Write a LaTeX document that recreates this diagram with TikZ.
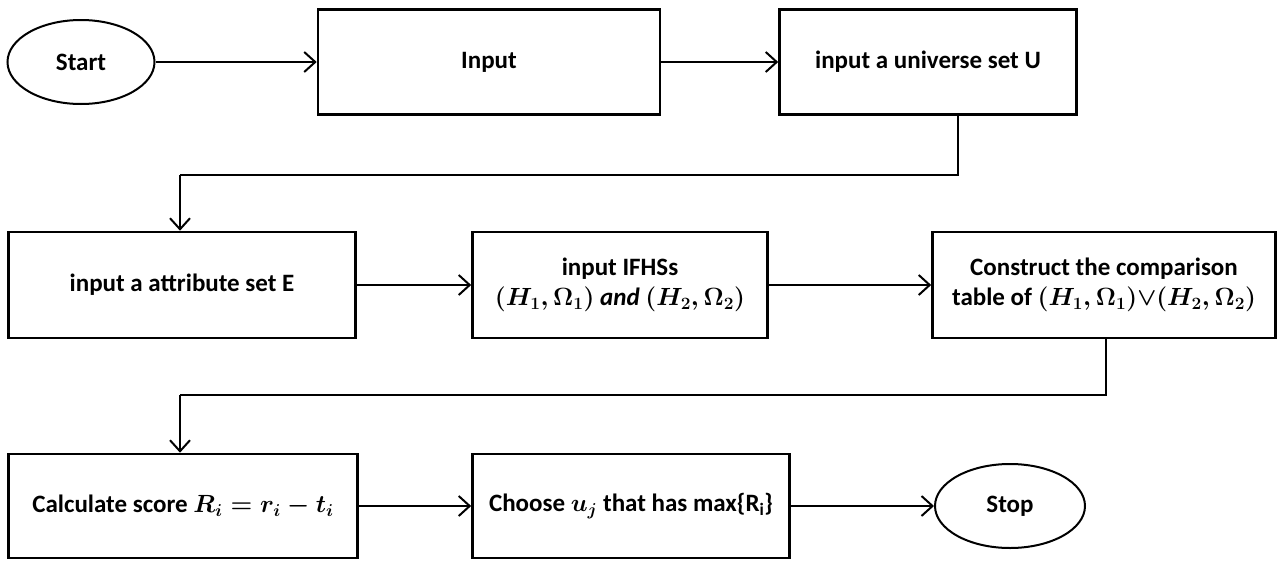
\documentclass[tikz,border=0pt]{standalone}
\usepackage{fontspec}
\setmainfont{Carlito}
\usetikzlibrary{shapes.geometric,arrows.meta}
\begin{document}
\begin{tikzpicture}[x=1pt,y=-1pt,
  txt/.style={font=\fontsize{25}{30}\selectfont\bfseries\boldmath},
  box/.style={draw,line width=2.6pt,rectangle,align=center,txt,inner sep=0pt},
  oval/.style={draw,line width=2pt,ellipse,txt,inner sep=0pt},
  arr/.style={line width=2pt,-{Straight Barb[length=11pt,width=20pt,line width=2pt]}}]
\useasboundingbox[fill=white] (0,0) rectangle (1278,560);
% row 1
\node[oval,minimum width=147pt,minimum height=84pt] (start) at (81,62) {Start};
\node[box,minimum width=342pt,minimum height=105pt] (input) at (489,62) {Input};
\node[box,minimum width=297pt,minimum height=105pt] (univ) at (928,62) {input a universe set U};
% row 2
\node[box,minimum width=347pt,minimum height=106pt] (attr) at (182,285) {input a attribute set E};
\node[box,minimum width=295pt,minimum height=106pt] (ifhs) at (620,285) {input IFHSs\\$(H_1,\Omega_1)$ $\mathit{and}$ $(H_2,\Omega_2)$};
\node[box,minimum width=343pt,minimum height=106pt] (cons) at (1104,285) {Construct the comparison\\table of $(H_1,\Omega_1){\vee}(H_2,\Omega_2)$};
% row 3
\node[box,minimum width=349pt,minimum height=104pt] (calc) at (183,506) {Calculate score $R_i=r_i-t_i$};
\node[box,minimum width=317pt,minimum height=104pt] (choose) at (631,506) {Choose $u_j$ that has max\{R\textsubscript{i}\}};
\node[oval,minimum width=150pt,minimum height=84pt] (stop) at (1010,506) {Stop};
% coordinates
\coordinate (c1) at (958,175);
\coordinate (c2) at (180,175);
\coordinate (c3) at (1106,395);
\coordinate (c4) at (180,395);
% connectors
\draw[arr] (start.east) -- (input.west);
\draw[arr] (input.east) -- (univ.west);
\draw[line width=2pt] (univ.south -| c1) -- (c1) -- (c2);
\draw[arr] (c2) -- (c2 |- attr.north);
\draw[arr] (attr.east) -- (ifhs.west);
\draw[arr] (ifhs.east) -- (cons.west);
\draw[line width=2pt] (cons.south -| c3) -- (c3) -- (c4);
\draw[arr] (c4) -- (c4 |- calc.north);
\draw[arr] (calc.east) -- (choose.west);
\draw[arr] (choose.east) -- (stop.west);
\end{tikzpicture}
\end{document}
